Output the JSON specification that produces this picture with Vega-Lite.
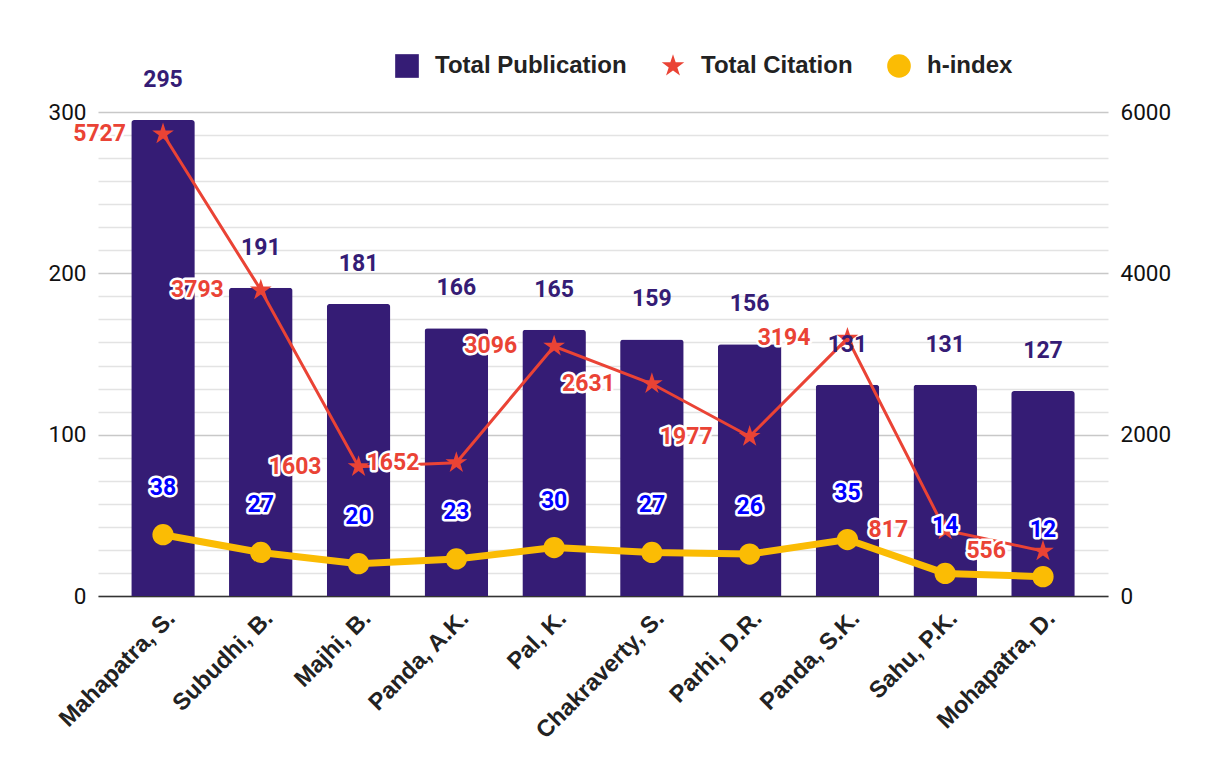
{
  "$schema": "https://vega.github.io/schema/vega-lite/v6.json",
  "width": 1010,
  "height": 484,
  "autosize": {"type": "none"},
  "padding": {"left": 98, "top": 112, "right": 100, "bottom": 186},
  "background": "white",
  "config": {"view": {"stroke": null}, "font": "Roboto"},
  "data": {
    "values": [
      {"name": "Mahapatra, S.", "pub": 295, "cit": 5727, "h": 38},
      {"name": "Subudhi, B.", "pub": 191, "cit": 3793, "h": 27},
      {"name": "Majhi, B.", "pub": 181, "cit": 1603, "h": 20},
      {"name": "Panda, A.K.", "pub": 166, "cit": 1652, "h": 23},
      {"name": "Pal, K.", "pub": 165, "cit": 3096, "h": 30},
      {"name": "Chakraverty, S.", "pub": 159, "cit": 2631, "h": 27},
      {"name": "Parhi, D.R.", "pub": 156, "cit": 1977, "h": 26},
      {"name": "Panda, S.K.", "pub": 131, "cit": 3194, "h": 35},
      {"name": "Sahu, P.K.", "pub": 131, "cit": 817, "h": 14},
      {"name": "Mohapatra, D.", "pub": 127, "cit": 556, "h": 12}
    ]
  },
  "encoding": {
    "x": {
      "field": "name",
      "type": "nominal",
      "sort": null,
      "title": null,
      "scale": {"paddingInner": 0.35, "paddingOuter": 0.34},
      "axis": {
        "labelAngle": -45,
        "labelFont": "Liberation Sans",
        "labelFontWeight": "bold",
        "labelFontSize": 23.5,
        "labelColor": "#222222",
        "labelPadding": 10,
        "labelLimit": 400,
        "ticks": false,
        "domainColor": "#333333",
        "domainWidth": 1.5,
        "grid": false
      }
    }
  },
  "layer": [
    {
      "mark": {"type": "bar", "cornerRadiusTopLeft": 3, "cornerRadiusTopRight": 3},
      "encoding": {
        "y": {
          "field": "pub",
          "type": "quantitative",
          "title": null,
          "scale": {"domain": [0, 300], "nice": false, "zero": true},
          "axis": {
            "values": [0, 14.285714, 28.571429, 42.857143, 57.142857, 71.428571, 85.714286, 100, 114.285714, 128.571429, 142.857143, 157.142857, 171.428571, 185.714286, 200, 214.285714, 228.571429, 242.857143, 257.142857, 271.428571, 285.714286, 300],
            "labelExpr": "datum.value % 100 === 0 ? datum.value : ''",
            "labelOverlap": false,
            "labelFlush": false,
            "labelFontSize": 22.5,
            "labelColor": "#111111",
            "labelPadding": 12,
            "ticks": false,
            "domain": false,
            "grid": true,
            "gridColor": {"condition": {"test": "datum.value % 100 === 0", "value": "#c8c8c8"}, "value": "#e3e3e3"},
            "gridWidth": 1.6
          }
        },
        "color": {
          "datum": "Total Publication",
          "type": "nominal",
          "scale": {"domain": ["Total Publication", "Total Citation", "h-index"], "range": ["#351c75", "#ea4335", "#fbbc04"]},
          "legend": {
            "title": null,
            "orient": "none",
            "direction": "horizontal",
            "legendX": 297,
            "legendY": -58,
            "labelFont": "Liberation Sans",
            "labelFontWeight": "bold",
            "labelFontSize": 24,
            "labelColor": "#222222",
            "labelLimit": 400,
            "labelOffset": 16,
            "columnPadding": 34,
            "symbolSize": 560,
            "symbolStrokeWidth": 0,
            "symbolOpacity": 1
          }
        }
      }
    },
    {
      "layer": [
        {
          "mark": {"type": "line", "color": "#ea4335", "strokeWidth": 3},
          "encoding": {
            "y": {
              "field": "cit",
              "type": "quantitative",
              "title": null,
              "scale": {"domain": [0, 6000], "nice": false},
              "axis": {
                "orient": "right",
                "values": [0, 2000, 4000, 6000],
                "format": "d",
                "labelFontSize": 22.5,
                "labelColor": "#111111",
                "labelPadding": 12,
                "labelFlush": false,
                "ticks": false,
                "domain": false,
                "grid": false
              }
            }
          }
        },
        {
          "mark": {"type": "point", "filled": true, "opacity": 1, "size": 520},
          "encoding": {
            "y": {"field": "cit", "type": "quantitative", "title": null},
            "color": {"datum": "Total Citation", "type": "nominal"},
            "shape": {
              "datum": "Total Citation",
              "type": "nominal",
              "scale": {"domain": ["Total Publication", "Total Citation", "h-index"], "range": ["square", "M0,-1L0.2245,-0.309L0.951,-0.309L0.3633,0.118L0.5878,0.809L0,0.382L-0.5878,0.809L-0.3633,0.118L-0.951,-0.309L-0.2245,-0.309Z", "circle"]}
            }
          }
        },
        {
          "mark": {"type": "text", "align": "right", "baseline": "middle", "dx": -37, "font": "Roboto", "fontWeight": "bold", "fontSize": 23, "fill": "white", "stroke": "white", "strokeWidth": 5, "strokeJoin": "round"},
          "encoding": {
            "y": {"field": "cit", "type": "quantitative", "title": null},
            "text": {"field": "cit", "type": "quantitative"}
          }
        },
        {
          "mark": {"type": "text", "align": "right", "baseline": "middle", "dx": -37, "font": "Roboto", "fontWeight": "bold", "fontSize": 23, "color": "#ea4335"},
          "encoding": {
            "y": {"field": "cit", "type": "quantitative", "title": null},
            "text": {"field": "cit", "type": "quantitative"}
          }
        }
      ]
    },
    {
      "layer": [
        {
          "mark": {"type": "line", "color": "#fbbc04", "strokeWidth": 7},
          "encoding": {
            "y": {"field": "h", "type": "quantitative", "title": null, "scale": {"domain": [0, 300], "nice": false}, "axis": null}
          }
        },
        {
          "mark": {"type": "point", "filled": true, "opacity": 1, "size": 452},
          "encoding": {
            "y": {"field": "h", "type": "quantitative", "title": null, "axis": null},
            "color": {"datum": "h-index", "type": "nominal"},
            "shape": {"datum": "h-index", "type": "nominal"}
          }
        },
        {
          "mark": {"type": "text", "baseline": "middle", "dy": -40, "font": "Roboto", "fontWeight": "bold", "fontSize": 23, "color": "#351c75"},
          "encoding": {
            "y": {"field": "pub", "type": "quantitative", "title": null, "axis": null},
            "text": {"field": "pub", "type": "quantitative"}
          }
        },
        {
          "mark": {"type": "text", "baseline": "middle", "dy": -47, "font": "Roboto", "fontWeight": "bold", "fontSize": 23, "fill": "white", "stroke": "white", "strokeWidth": 5, "strokeJoin": "round"},
          "encoding": {
            "y": {"field": "h", "type": "quantitative", "title": null, "axis": null},
            "text": {"field": "h", "type": "quantitative"}
          }
        },
        {
          "mark": {"type": "text", "baseline": "middle", "dy": -47, "font": "Roboto", "fontWeight": "bold", "fontSize": 23, "color": "#0000ff"},
          "encoding": {
            "y": {"field": "h", "type": "quantitative", "title": null, "axis": null},
            "text": {"field": "h", "type": "quantitative"}
          }
        }
      ]
    }
  ],
  "resolve": {"scale": {"y": "independent"}}
}
